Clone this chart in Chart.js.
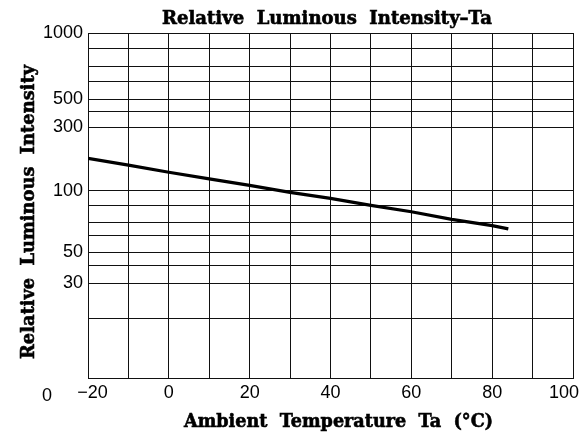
<!DOCTYPE html>
<html>
<head>
<meta charset="utf-8">
<script src="https://cdn.jsdelivr.net/npm/chart.js@4/dist/chart.umd.min.js"></script>
<style>
  html, body { margin: 0; padding: 0; background: #fff; }
  #wrap { width: 585px; height: 437px; position: relative; }
</style>
</head>
<body>
<div id="wrap"><canvas id="c" width="585" height="437"></canvas></div>
<script>
// ---- data ----
const temperatures = [-20, -10, 0, 10, 20, 30, 40, 50, 60, 70, 80, 84];          // Ta (°C)
const intensity    = [175, 156, 138, 123, 110, 98.5, 92, 85, 79, 72.5, 67.5, 65]; // relative luminous intensity

const xTickValues = [-20, 0, 20, 40, 60, 80, 100];
const xTickLabels = ['\u221220', '0', '20', '40', '60', '80', '100'];

const yTickValues = [1000, 500, 300, 100, 50, 30];
const yTickLabels = ['1000', '500', '300', '100', '50', '30'];
const yGridValues = [1000, 850, 700, 600, 500, 400, 300, 100, 85, 70, 60, 50, 40, 30, 20, 10];

// the printed axis is not a true log axis: each labelled segment has its own length
const yAxisAnchors = [10, 30, 50, 100, 300, 500, 1000];
const yAxisLevels  = [0, 95, 126, 187, 251, 279, 345];   // axis level of each anchor (bottom = 0)

const titleText  = 'Relative  Luminous  Intensity\u2013Ta';
const xTitleText = 'Ambient  Temperature  Ta  (\u00B0C)';
const yTitleText = 'Relative  Luminous  Intensity';
const cornerLabel = '0';

// ---- a piecewise-logarithmic scale matching the printed axis ----
class PiecewiseLogScale extends Chart.Scale {
  determineDataLimits() {
    this.min = yAxisAnchors[0];
    this.max = yAxisAnchors[yAxisAnchors.length - 1];
  }
  buildTicks() {
    return (this.options.gridValues || []).map(v => ({ value: v }));
  }
  getLabelForValue(v) { return String(v); }
  _decimal(v) {
    const a = yAxisAnchors, l = yAxisLevels, top = l[l.length - 1];
    const lv = Math.log10(Math.max(v, 1e-9));
    if (v <= a[0]) return l[0] / top;
    for (let i = 1; i < a.length; i++) {
      if (v <= a[i]) {
        const t = (lv - Math.log10(a[i - 1])) / (Math.log10(a[i]) - Math.log10(a[i - 1]));
        return (l[i - 1] + t * (l[i] - l[i - 1])) / top;
      }
    }
    return 1;
  }
  getPixelForValue(v) { return this.getPixelForDecimal(this._decimal(v)); }
  getPixelForTick(i) { return this.getPixelForValue(this.ticks[i].value); }
  getValueForPixel(p) {
    const a = yAxisAnchors, l = yAxisLevels, top = l[l.length - 1];
    const lev = this.getDecimalForPixel(p) * top;
    for (let i = 1; i < a.length; i++) {
      if (lev <= l[i]) {
        const t = (lev - l[i - 1]) / (l[i] - l[i - 1]);
        return Math.pow(10, Math.log10(a[i - 1]) + t * (Math.log10(a[i]) - Math.log10(a[i - 1])));
      }
    }
    return a[a.length - 1];
  }
}
PiecewiseLogScale.id = 'piecewiseLog';
PiecewiseLogScale.defaults = {};
Chart.register(PiecewiseLogScale);

// ---- text drawn around the plot ----
function fitText(ctx, text, cx, cy, width, font, rotate) {
  ctx.save();
  ctx.font = font;
  ctx.fillStyle = '#000';
  ctx.strokeStyle = '#000';
  ctx.lineWidth = 0.6;
  ctx.textAlign = 'center';
  ctx.textBaseline = 'alphabetic';
  const w = ctx.measureText(text).width;
  ctx.translate(cx, cy);
  if (rotate) ctx.rotate(-Math.PI / 2);
  ctx.scale(width / w, 1);
  ctx.fillText(text, 0, 0);
  ctx.strokeText(text, 0, 0);
  ctx.restore();
}
const textPlugin = {
  id: 'texts',
  afterDraw(chart) {
    const ctx = chart.ctx;
    const area = chart.chartArea;
    const serif = 'bold 18px "DejaVu Serif"';
    fitText(ctx, titleText, 327, 24, 330, serif, false);
    fitText(ctx, xTitleText, 338.5, 427, 309, serif, false);
    fitText(ctx, yTitleText, 34, 212, 294, serif, true);
    ctx.save();
    ctx.font = '18px "Liberation Sans"';
    ctx.fillStyle = '#000';
    ctx.textAlign = 'center';
    ctx.textBaseline = 'middle';
    ctx.fillText(cornerLabel, area.left - 41, area.bottom + 18);
    ctx.restore();
  }
};

const gridColor = '#111';
new Chart(document.getElementById('c'), {
  type: 'line',
  data: {
    datasets: [{
      data: temperatures.map((t, i) => ({ x: t, y: intensity[i] })),
      borderColor: '#000',
      borderWidth: 3.2,
      pointRadius: 0,
      tension: 0,
      fill: false
    }]
  },
  options: {
    responsive: false,
    animation: false,
    devicePixelRatio: 1,
    layout: { padding: { top: 33, right: 12, left: 0, bottom: 0 } },
    plugins: { legend: { display: false }, tooltip: { enabled: false }, title: { display: false } },
    scales: {
      x: {
        type: 'linear',
        min: -20, max: 100,
        afterFit(s) { s.height = 59; s.paddingLeft = 0; s.paddingRight = 0; },
        afterBuildTicks(s) {
          const t = [];
          for (let v = -20; v <= 100; v += 10) t.push({ value: v });
          s.ticks = t;
        },
        grid: { color: gridColor, lineWidth: 1, drawTicks: false },
        border: { color: gridColor, width: 1 },
        ticks: {
          autoSkip: false, maxRotation: 0, padding: 4,
          color: '#000',
          font: { family: '"Liberation Sans"', size: 18 },
          callback(v) {
            const i = xTickValues.indexOf(v);
            if (i < 0) return '';
            // end labels sit slightly inward in the printed chart
            if (i === 0) return '\u2002' + xTickLabels[i];
            if (i === xTickValues.length - 1) return xTickLabels[i] + '\u2002\u2002';
            return xTickLabels[i];
          }
        }
      },
      y: {
        type: 'piecewiseLog',
        gridValues: yGridValues,
        afterFit(s) { s.width = 88; s.paddingTop = 0; s.paddingBottom = 0; },
        grid: { color: gridColor, lineWidth: 1, drawTicks: false },
        border: { color: gridColor, width: 1 },
        ticks: {
          autoSkip: false, padding: 5,
          color: '#000',
          font: { family: '"Liberation Sans"', size: 18 },
          callback(v) { const i = yTickValues.indexOf(v); return i >= 0 ? yTickLabels[i] : ''; }
        }
      }
    }
  },
  plugins: [textPlugin]
});
</script>
</body>
</html>
